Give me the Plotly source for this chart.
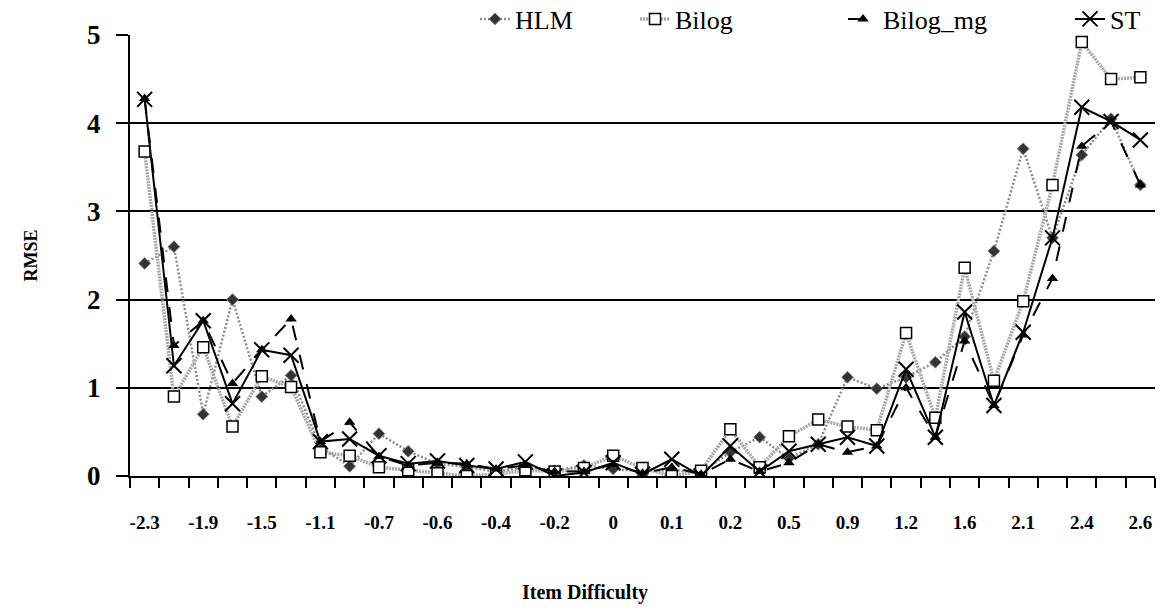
import plotly.graph_objects as go

# Item difficulty tick labels (shown on every other item)
tick_labels = ["-2.3", "-1.9", "-1.5", "-1.1", "-0.7", "-0.6", "-0.4", "-0.2", "0",
               "0.1", "0.2", "0.5", "0.9", "1.2", "1.6", "2.1", "2.4", "2.6"]

# RMSE per item, ordered by item difficulty
hlm = [2.41, 2.60, 0.70, 2.00, 0.90, 1.14, 0.33, 0.11, 0.48, 0.28, 0.14, 0.10,
       0.05, 0.10, 0.06, 0.12, 0.08, 0.05, 0.07, 0.04, 0.27, 0.44, 0.20, 0.36,
       1.12, 0.99, 1.12, 1.29, 1.58, 2.55, 3.71, 2.70, 3.64, 4.05, 3.30]
bilog = [3.68, 0.90, 1.46, 0.56, 1.13, 1.01, 0.27, 0.23, 0.10, 0.065, 0.03, 0.0,
         0.02, 0.065, 0.05, 0.09, 0.23, 0.09, 0.0, 0.06, 0.53, 0.10, 0.45, 0.64,
         0.56, 0.52, 1.62, 0.66, 2.36, 1.08, 1.98, 3.30, 4.92, 4.50, 4.52]
bilog_mg = [4.28, 1.48, 1.76, 1.05, 1.43, 1.78, 0.39, 0.61, 0.22, 0.12, 0.15, 0.14,
            0.08, 0.12, 0.05, 0.05, 0.13, 0.03, 0.10, 0.02, 0.19, 0.05, 0.15, 0.36,
            0.27, 0.34, 1.00, 0.44, 1.53, 0.80, 1.60, 2.24, 3.74, 4.02, 3.30]
st = [4.27, 1.25, 1.76, 0.82, 1.43, 1.37, 0.39, 0.42, 0.23, 0.14, 0.17, 0.12,
      0.08, 0.16, 0.0, 0.04, 0.15, 0.02, 0.19, 0.0, 0.34, 0.05, 0.28, 0.36,
      0.44, 0.34, 1.21, 0.44, 1.86, 0.80, 1.63, 2.70, 4.18, 4.02, 3.81]

x = list(range(len(st)))
SERIF = "Liberation Serif, Times New Roman, serif"
W, H = 1168, 612
L, R, T, B = 130, 13, 35, 136
PW, PH = W - L - R, H - T - B

fig = go.Figure()
fig.add_trace(go.Scatter(
    x=x, y=hlm, name="HLM", mode="lines+markers", legend="legend",
    line=dict(color="#8c8c8c", width=2.5, dash="2px,2px"),
    marker=dict(symbol="diamond", size=9, color="#333333",
                line=dict(color="#777777", width=1))))
fig.add_trace(go.Scatter(
    x=x, y=bilog, name="Bilog", mode="lines+markers", legend="legend2",
    line=dict(color="#a8a8a8", width=3.5, dash="2px,1px"),
    marker=dict(symbol="square", size=11, color="white",
                line=dict(color="black", width=1.5))))
fig.add_trace(go.Scatter(
    x=x, y=bilog_mg, name="Bilog_mg", mode="lines+markers", legend="legend3",
    line=dict(color="black", width=2, dash="longdash"),
    marker=dict(symbol="triangle-up", size=10, color="black")))
fig.add_trace(go.Scatter(
    x=x, y=st, name="ST", mode="lines+markers", legend="legend4",
    line=dict(color="black", width=2),
    marker=dict(symbol="x-thin-open", size=15, color="black",
                line=dict(color="black", width=2))))

legend_font = dict(family=SERIF, size=26, color="black")


def legend_at(px):
    return dict(orientation="h", xref="container", yref="container",
                x=px / W, y=1 - 19 / H, xanchor="left", yanchor="middle",
                bgcolor="rgba(0,0,0,0)", borderwidth=0, font=legend_font)


def paper_x(px):
    return (px - L) / PW


def paper_y(py):
    return (H - B - py) / PH


fig.update_layout(
    width=W, height=H,
    margin=dict(l=L, r=R, t=T, b=B, autoexpand=False),
    paper_bgcolor="white", plot_bgcolor="white",
    font=dict(family=SERIF, color="black"),
    showlegend=True,
    legend=legend_at(475), legend2=legend_at(635),
    legend3=legend_at(843), legend4=legend_at(1070),
    xaxis=dict(
        range=[-0.5, len(x) - 0.5],
        tickmode="array", tickvals=x[::2], ticktext=tick_labels,
        ticks="", ticklabelstandoff=28,
        tickfont=dict(family=SERIF, size=19, weight="bold"),
        showgrid=False, zeroline=False,
        showline=True, linecolor="black", linewidth=2,
        minor=dict(ticks="outside", tickmode="linear", tick0=-0.5, dtick=1,
                   ticklen=10, tickwidth=2, tickcolor="black", showgrid=False),
    ),
    yaxis=dict(
        range=[0, 5], tickmode="linear", tick0=0, dtick=1,
        ticks="outside", ticklen=12, tickwidth=2, tickcolor="black",
        ticklabelstandoff=10,
        tickfont=dict(family=SERIF, size=27, weight="bold"),
        showgrid=True, gridcolor="black", gridwidth=1.5,
        zeroline=False, showline=True, linecolor="black", linewidth=2,
    ),
    annotations=[
        dict(text="RMSE", xref="paper", yref="paper", x=paper_x(30), y=0.5,
             xanchor="center", yanchor="middle",
             textangle=-90, showarrow=False,
             font=dict(family=SERIF, size=18, weight="bold")),
        dict(text="Item Difficulty", xref="paper", yref="paper",
             x=paper_x(585), y=paper_y(592), xanchor="center", yanchor="middle",
             showarrow=False,
             font=dict(family=SERIF, size=20, weight="bold")),
    ],
    shapes=[
        # the legend strip interrupts the top gridline
        dict(type="rect", xref="paper", yref="y", x0=paper_x(450), x1=1.0,
             y0=4.97, y1=5.03, fillcolor="white", line=dict(width=0),
             layer="between"),
    ],
)

fig.write_html("out.html")
